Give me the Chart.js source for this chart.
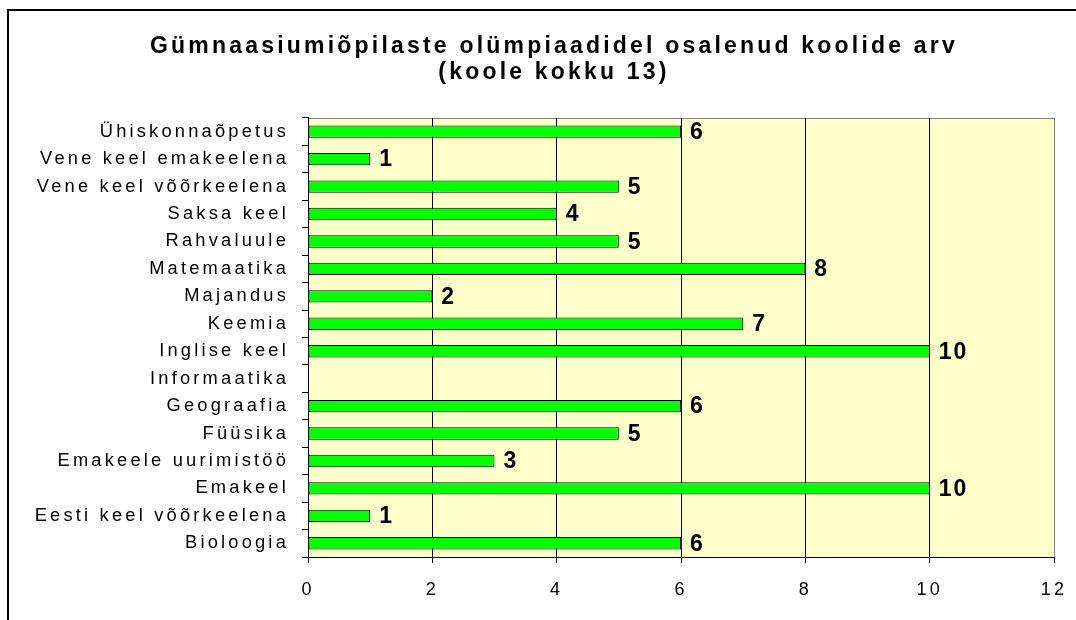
<!DOCTYPE html>
<html>
<head>
<meta charset="utf-8">
<script src="https://cdn.jsdelivr.net/npm/chart.js@4.4.1/dist/chart.umd.min.js"></script>
<style>
    html, body { margin: 0; padding: 0; background: #fff; overflow: hidden; }
    #raam { position: absolute; left: 7px; top: 9px; width: 1200px; height: 700px;
            border-left: 2px solid #000; border-top: 2px solid #000; }
    #chartKoolid { position: absolute; left: 0; top: 0; }
</style>
</head>
<body>
<div id="raam"></div>
<canvas id="chartKoolid" width="1108" height="620"></canvas>
<script>
const aineid = [
    'Ühiskonnaõpetus', 'Vene keel emakeelena', 'Vene keel võõrkeelena', 'Saksa keel',
    'Rahvaluule', 'Matemaatika', 'Majandus', 'Keemia', 'Inglise keel', 'Informaatika',
    'Geograafia', 'Füüsika', 'Emakeele uurimistöö', 'Emakeel', 'Eesti keel võõrkeelena',
    'Bioloogia'
];
const koolideArv = [6, 1, 5, 4, 5, 8, 2, 7, 10, null, 6, 5, 3, 10, 1, 6];
const pealkiri = ['Gümnaasiumiõpilaste olümpiaadidel osalenud koolide arv', '(koole kokku 13)'];

const kiri = '"Liberation Sans", Arial, sans-serif';

// taust enne ruudustikku, et jooned jääks peale
const taust = {
    id: 'taust',
    afterLayout(chart) {
        // pealkiri kogu raami keskele, mitte ainult kuni parema servani
        if (chart.titleBlock) chart.titleBlock.left = 54;
    },
    beforeDraw(chart) {
        const a = chart.chartArea;
        const ctx = chart.ctx;
        ctx.letterSpacing = '3.2px';
        ctx.save();
        ctx.fillStyle = '#FFFFCC';
        ctx.fillRect(a.left, a.top, a.right - a.left, a.bottom - a.top);
        ctx.strokeStyle = '#808080';
        ctx.lineWidth = 1;
        ctx.beginPath();
        ctx.moveTo(a.left, a.top + 0.5);
        ctx.lineTo(a.right + 0.5, a.top + 0.5);
        ctx.stroke();
        ctx.restore();
    }
};

const vaartused = {
    id: 'vaartused',
    afterDatasetsDraw(chart) {
        const ctx = chart.ctx;
        const meta = chart.getDatasetMeta(0);
        ctx.save();
        ctx.font = 'bold 23px ' + kiri;
        ctx.letterSpacing = '2px';
        ctx.fillStyle = '#000';
        ctx.textBaseline = 'middle';
        ctx.textAlign = 'left';
        meta.data.forEach((bar, i) => {
            const v = koolideArv[i];
            if (v === null) return;
            ctx.fillText(String(v), bar.x + 9, bar.y + 1);
        });
        ctx.restore();
    }
};

const data = {
    labels: aineid,
    datasets: [{
        data: koolideArv,
        backgroundColor: '#00FF00',
        borderColor: '#000',
        borderWidth: 1,
        borderSkipped: false,
        barPercentage: 0.45,
        categoryPercentage: 1
    }]
};

const config = {
    type: 'bar',
    data: data,
    options: {
        indexAxis: 'y',
        responsive: false,
        animation: false,
        devicePixelRatio: 1,
        layout: { padding: { top: 0, right: 54, bottom: 20, left: 0 } },
        plugins: {
            legend: { display: false },
            tooltip: { enabled: false },
            title: {
                display: true,
                text: pealkiri,
                color: '#000',
                font: { family: kiri, size: 23, weight: 'bold', lineHeight: 1.13 },
                padding: { top: 34, bottom: 32 }
            }
        },
        scales: {
            x: {
                min: 0,
                max: 12,
                ticks: {
                    stepSize: 2,
                    color: '#000',
                    padding: 16,
                    font: { family: kiri, size: 18 }
                },
                grid: {
                    color: (c) => (c.tick && c.tick.value === 12 ? '#808080' : '#000'),
                    tickColor: '#000',
                    tickLength: 6
                },
                border: { color: '#000', width: 1 },
                afterFit(scale) { scale.height = 43; }
            },
            y: {
                ticks: {
                    color: '#000',
                    padding: 13,
                    font: { family: kiri, size: 18.3 }
                },
                grid: {
                    offset: true,
                    drawOnChartArea: false,
                    color: '#000',
                    tickLength: 6
                },
                border: { color: '#000', width: 1 },
                afterFit(scale) { scale.width = 308; }
            }
        }
    },
    plugins: [taust, vaartused]
};

const canvasKoolid = document.getElementById('chartKoolid');
const graafik = new Chart(canvasKoolid, config);
</script>
</body>
</html>
